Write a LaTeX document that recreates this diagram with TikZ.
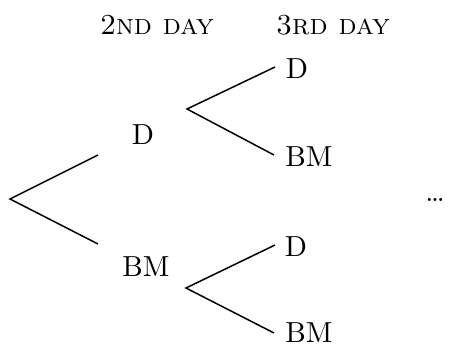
\documentclass[tikz,border=0pt]{standalone}
\newcommand{\bigtxt}[1]{\scalebox{2.9}{#1}}
\begin{document}
\begin{tikzpicture}[x=1pt,y=-1pt,
  lbl/.style={inner sep=0pt},
  branch/.style={line width=1.5pt}]
\useasboundingbox (0,0) rectangle (450,345);

% column headings
\node[lbl] (h2) at (157,25) {\bigtxt{\textsc{2nd day}}};
\node[lbl] (h3) at (333,25) {\bigtxt{\textsc{3rd day}}};

% second-day outcomes
\node[lbl] (d2)  at (143,135) {\bigtxt{D}};
\node[lbl] (bm2) at (146,267) {\bigtxt{BM}};

% third-day outcomes
\node[lbl] (d3a)  at (297,69)  {\bigtxt{D}};
\node[lbl] (bm3a) at (309,157) {\bigtxt{BM}};
\node[lbl] (d3b)  at (296,247) {\bigtxt{D}};
\node[lbl] (bm3b) at (309,333) {\bigtxt{BM}};

\node[lbl,anchor=base] (more) at (435,201) {\bigtxt{\dots}};

% branch points and branch tips
\coordinate (root) at (10,199);
\coordinate (r1u) at (98,155);
\coordinate (r1l) at (98,244);
\coordinate (sa) at (187,109);
\coordinate (sau) at (275,67);
\coordinate (sal) at (274,155);
\coordinate (sb) at (186,288);
\coordinate (sbu) at (275,245);
\coordinate (sbl) at (274,333);

\draw[branch] (r1u) -- (root) -- (r1l);
\draw[branch] (sau) -- (sa) -- (sal);
\draw[branch] (sbu) -- (sb) -- (sbl);
\end{tikzpicture}
\end{document}
